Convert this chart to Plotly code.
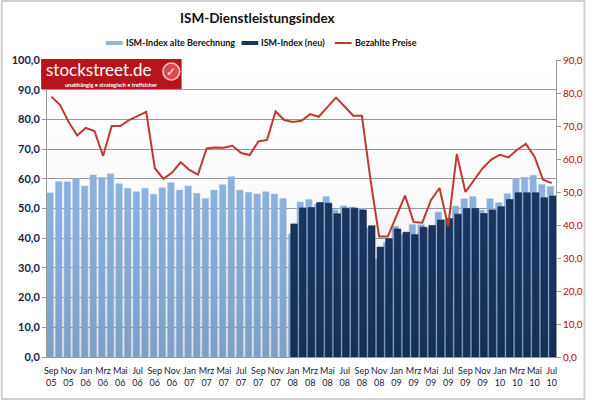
import plotly.graph_objects as go

months = ["Sep 05","Okt 05","Nov 05","Dez 05",
          "Jan 06","Feb 06","Mrz 06","Apr 06","Mai 06","Jun 06","Jul 06","Aug 06","Sep 06","Okt 06","Nov 06","Dez 06",
          "Jan 07","Feb 07","Mrz 07","Apr 07","Mai 07","Jun 07","Jul 07","Aug 07","Sep 07","Okt 07","Nov 07","Dez 07",
          "Jan 08","Feb 08","Mrz 08","Apr 08","Mai 08","Jun 08","Jul 08","Aug 08","Sep 08","Okt 08","Nov 08","Dez 08",
          "Jan 09","Feb 09","Mrz 09","Apr 09","Mai 09","Jun 09","Jul 09","Aug 09","Sep 09","Okt 09","Nov 09","Dez 09",
          "Jan 10","Feb 10","Mrz 10","Apr 10","Mai 10","Jun 10","Jul 10"]

ism_alt = [55.3, 59.1, 59.0, 60.0,
           57.6, 61.3, 60.5, 61.7, 58.3, 56.8, 55.6, 56.8, 54.8, 57.0, 58.7, 56.2,
           57.6, 55.1, 53.4, 56.2, 58.0, 60.8, 56.2, 55.5, 54.9, 55.6, 54.9, 53.4,
           41.5, 52.2, 53.0, 51.5, 54.0, 49.6, 50.9, 50.5, 50.0, 43.5, 33.1, 38.6,
           44.0, 41.2, 44.6, 44.5, 43.3, 48.8, 46.5, 50.8, 53.3, 54.0, 49.5, 53.3,
           52.0, 55.0, 60.0, 60.5, 61.2, 58.1, 57.4]

ism_neu = [None]*28 + [
           44.8, 50.2, 50.3, 52.0, 51.8, 48.2, 50.1, 50.1, 49.5, 44.2, 37.0, 39.8,
           43.1, 42.0, 41.2, 43.7, 44.3, 46.1, 46.6, 48.1, 50.0, 50.0, 48.3, 49.5,
           50.6, 53.0, 55.3, 55.3, 55.3, 53.6, 54.2]

preise = [78.9, 76.4, 71.3, 67.1,
          69.4, 68.5, 60.9, 70.0, 70.0, 71.8, 73.0, 74.3, 57.2, 54.0, 55.9, 59.0,
          56.7, 55.3, 63.2, 63.5, 63.4, 64.0, 61.8, 61.2, 65.3, 65.8, 74.4, 71.8,
          71.2, 71.6, 73.6, 72.8, 75.7, 78.6, 75.9, 73.1, 73.1, 53.7, 36.5, 36.5,
          42.7, 48.9, 40.9, 40.7, 47.5, 51.2, 39.6, 61.5, 50.0, 53.5, 57.2, 59.8,
          61.3, 60.5, 62.8, 64.6, 60.8, 53.7, 52.7]

series_names = ["ISM-Index alte Berechnung", "ISM-Index (neu)", "Bezahlte Preise"]
c_alt, c_neu, c_preis = "#8db4e2", "#1b3560", "#c0392f"

x = list(range(len(months)))
tickvals = x[::2]
ticktext = [m.replace(" ", "<br>") for m in months[::2]]

# plot area in pixels
L, R, T, B = 47, 565, 60, 357
W, H = R - L, B - T
def xp(px): return (px - L) / W
def yp(py): return (B - py) / H

fig = go.Figure()
# subtle background gradient of the plot area
fig.add_trace(go.Scatter(x=[-0.5, len(months) - 0.5, len(months) - 0.5, -0.5, -0.5],
                         y=[0, 0, 100, 100, 0], mode="lines", line=dict(width=0),
                         fill="toself",
                         fillgradient=dict(type="vertical",
                                           colorscale=[[0, "rgba(0,0,0,0.12)"], [0.5, "rgba(0,0,0,0.02)"],
                                                       [1, "rgba(0,0,0,0)"]]),
                         showlegend=False, hoverinfo="skip"))
fig.add_trace(go.Bar(x=x, y=ism_alt, name=series_names[0], showlegend=False,
                     marker=dict(color=c_alt, line=dict(color="#a9c6ea", width=0.5)),
                     width=0.76, offset=-0.52))
fig.add_trace(go.Bar(x=x, y=ism_neu, name=series_names[1], showlegend=False,
                     marker=dict(color=c_neu, line=dict(color="#0e2341", width=0.6)),
                     width=0.76, offset=-0.24))
fig.add_trace(go.Scatter(x=x, y=preise, name=series_names[2], yaxis="y2", mode="lines",
                         showlegend=False, line=dict(color=c_preis, width=2)))

shapes = []
# chart area border
shapes.append(dict(type="rect", xref="paper", yref="paper",
                   x0=xp(1), x1=xp(594), y0=yp(399), y1=yp(1),
                   line=dict(color="#d0d0d0", width=2), fillcolor="rgba(0,0,0,0)", layer="below"))
# logo box
shapes.append(dict(type="rect", xref="paper", yref="paper",
                   x0=xp(41), x1=xp(184), y0=yp(89), y1=yp(59),
                   line=dict(width=0), fillcolor="#b8141c", layer="above"))
shapes.append(dict(type="circle", xref="paper", yref="paper",
                   x0=xp(165), x1=xp(182), y0=yp(80), y1=yp(63),
                   line=dict(color="#f2d0d0", width=1.5), fillcolor="#e0474c", layer="above"))

# legend (drawn manually to match the compact spacing)
leg_y = 43
shapes.append(dict(type="rect", xref="paper", yref="paper", x0=xp(107), x1=xp(124),
                   y0=yp(45), y1=yp(41), line=dict(width=0), fillcolor=c_alt))
shapes.append(dict(type="rect", xref="paper", yref="paper", x0=xp(245), x1=xp(262),
                   y0=yp(45), y1=yp(41), line=dict(width=0), fillcolor=c_neu))
shapes.append(dict(type="line", xref="paper", yref="paper", x0=xp(340), x1=xp(357),
                   y0=yp(leg_y), y1=yp(leg_y), line=dict(color=c_preis, width=2)))

annotations = [
    dict(text="<b>ISM-Dienstleistungsindex</b>", x=xp(261), y=yp(18), xref="paper", yref="paper",
         showarrow=False, font=dict(family="Lato", size=13.5, color="#111111"), xanchor="center", yanchor="middle"),
    dict(text="stockstreet.de", x=xp(44), y=yp(70), xref="paper", yref="paper", showarrow=False,
         font=dict(family="Lato", size=17, color="white"), xanchor="left", yanchor="middle"),
    dict(text="unabhängig • strategisch • treffsicher", x=xp(113), y=yp(85), xref="paper", yref="paper",
         showarrow=False, font=dict(family="Lato", size=5.5, color="white", weight="bold"),
         xanchor="center", yanchor="middle"),
    dict(text="<b>✓</b>", x=xp(173.5), y=yp(71.5), xref="paper", yref="paper", showarrow=False,
         font=dict(family="DejaVu Sans", size=12, color="white"), xanchor="center", yanchor="middle"),
]
for name, px in zip(series_names, [125, 263, 358]):
    annotations.append(dict(text=name, x=xp(px), y=yp(leg_y), xref="paper", yref="paper",
                            showarrow=False, xanchor="left", yanchor="middle",
                            font=dict(family="Lato", size=9, color="#111111", weight="bold")))

fig.update_layout(
    width=595, height=401,
    margin=dict(l=L, r=595 - R, t=T, b=401 - B, pad=0),
    paper_bgcolor="white", plot_bgcolor="white",
    barmode="overlay",
    separators=",.",
    showlegend=False,
    xaxis=dict(range=[-0.5, len(months) - 0.5], tickvals=tickvals, ticktext=ticktext,
               tickfont=dict(family="Lato", size=9, color="#1a1a3a"), showgrid=False,
               showline=True, linecolor="#9a9a9a", linewidth=1, ticks="outside", ticklen=5,
               tickcolor="rgba(0,0,0,0)", zeroline=False, tickangle=0),
    yaxis=dict(range=[0, 100], dtick=10, tickformat=".1f",
               tickfont=dict(family="Lato", size=11, color="#14244a", weight="bold"),
               showgrid=True, gridcolor="#9a9a9a", gridwidth=1,
               showline=True, linecolor="#9a9a9a", ticks="outside", ticklen=4, tickcolor="#9a9a9a",
               zeroline=False),
    yaxis2=dict(range=[0, 90], dtick=10, tickformat=".1f", overlaying="y", side="right",
                tickfont=dict(family="Lato", size=10, color="#c00000"),
                showgrid=False, showline=True, linecolor="#9a9a9a",
                ticks="outside", ticklen=4, tickcolor="#9a9a9a", zeroline=False),
    shapes=shapes,
    annotations=annotations,
)

fig.write_html("out.html")
